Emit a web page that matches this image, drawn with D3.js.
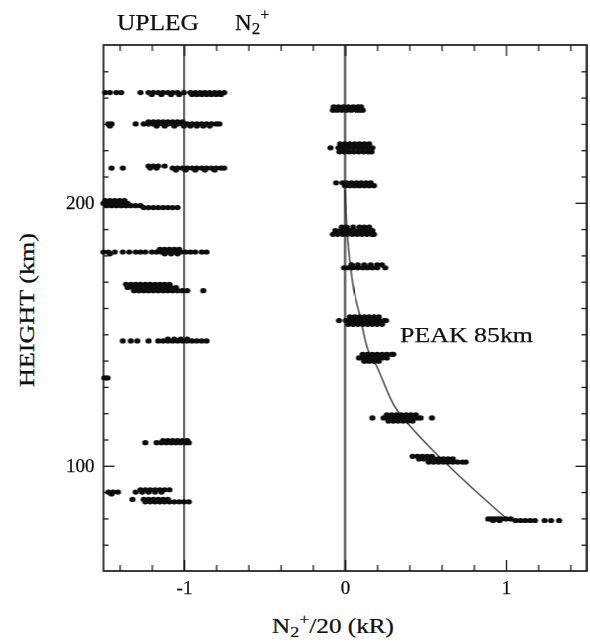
<!DOCTYPE html>
<html>
<head>
<meta charset="utf-8">
<script src="https://cdn.jsdelivr.net/npm/d3@7"></script>
<style>
  body { margin: 0; background: #fff; }
  svg text { font-family: "Liberation Serif", "DejaVu Serif", serif; fill: #111; stroke: #111; stroke-width: 0.25px; }
</style>
</head>
<body>
<div id="graf"></div>
<script>
// datos: [altura km, [valores x]] por fila de puntos
const derechaFilas = [
  [236.5, [-0.07, -0.04, -0.01, 0.02, 0.05, 0.08, 0.10]],
  [235.2, [-0.075, -0.05, -0.02, 0.01, 0.04, 0.07, 0.09, 0.11]],
  [222.4, [-0.03, 0, 0.03, 0.06, 0.09, 0.12, 0.15]],
  [220.9, [-0.09, -0.04, -0.01, 0.02, 0.05, 0.08, 0.11, 0.14, 0.17]],
  [219.4, [-0.035, -0.005, 0.025, 0.055, 0.085, 0.115, 0.145, 0.165]],
  [207.6, [-0.055, -0.015, 0.01, 0.04, 0.07, 0.10, 0.13, 0.16]],
  [206.5, [0, 0.03, 0.06, 0.09, 0.12, 0.15, 0.18]],
  [190.8, [-0.02, 0.01, 0.05, 0.09, 0.12, 0.15]],
  [189.4, [-0.06, -0.03, 0, 0.03, 0.06, 0.09, 0.12, 0.15, 0.17]],
  [188.0, [-0.075, -0.045, -0.015, 0.015, 0.045, 0.075, 0.105, 0.135, 0.165, 0.18]],
  [176.4, [0.04, 0.08, 0.12, 0.16, 0.2, 0.23]],
  [175.3, [-0.006, 0.02, 0.05, 0.08, 0.11, 0.14, 0.17, 0.2, 0.25]],
  [156.6, [0.03, 0.06, 0.09, 0.12, 0.15, 0.18, 0.21]],
  [155.2, [-0.037, 0.006, 0.035, 0.065, 0.095, 0.125, 0.155, 0.185, 0.215, 0.245, 0.255]],
  [153.8, [0.02, 0.05, 0.08, 0.11, 0.14, 0.17, 0.2, 0.23]],
  [142.4, [0.11, 0.14, 0.17, 0.2, 0.23, 0.26, 0.29, 0.30]],
  [141.0, [0.087, 0.11, 0.14, 0.17, 0.2, 0.23, 0.26]],
  [139.8, [0.12, 0.15, 0.18, 0.21]],
  [119.4, [0.26, 0.29, 0.32, 0.35, 0.38, 0.41, 0.44]],
  [118.2, [0.17, 0.24, 0.27, 0.3, 0.33, 0.36, 0.39, 0.42, 0.45, 0.47, 0.54]],
  [117.0, [0.27, 0.3, 0.33, 0.36, 0.39, 0.42]],
  [103.6, [0.42, 0.45, 0.48, 0.51, 0.54]],
  [102.6, [0.46, 0.49, 0.52, 0.55, 0.58, 0.61, 0.64, 0.67]],
  [101.4, [0.52, 0.55, 0.58, 0.61, 0.64, 0.67, 0.70, 0.73, 0.75]],
  [79.8, [0.89, 0.91, 0.93, 0.95, 0.97, 1.0, 1.03]],
  [79.2, [0.92, 0.96, 1.06, 1.09, 1.12, 1.15, 1.18, 1.24, 1.28, 1.33]]
];

// subida (UPLEG) desplazada a -1
const izquierdaFilas = [
  [241.9, [-1.49, -1.46, -1.42, -1.39, -1.27, -1.22, -1.19, -1.16, -1.13, -1.1, -1.07, -1.04, -1.0, -0.96, -0.93, -0.9, -0.87, -0.84, -0.81, -0.78, -0.75]],
  [241.2, [-1.2, -1.14, -1.08, -1.03, -0.95, -0.92, -0.89, -0.86, -0.83, -0.8, -0.77]],
  [230.8, [-1.22, -1.19, -1.16, -1.13, -1.1, -1.07, -1.04, -1.01]],
  [230.0, [-1.47, -1.45, -1.3, -1.25, -1.22, -1.19, -1.16, -1.13, -1.1, -1.07, -1.04, -1.01, -0.98, -0.95, -0.92, -0.89, -0.86, -0.83, -0.8, -0.78]],
  [229.2, [-1.46, -1.17, -1.12, -1.06, -1.0, -0.96, -0.92, -0.88, -0.84]],
  [214.0, [-1.22, -1.19, -1.16, -1.12]],
  [213.2, [-1.45, -1.38, -1.21, -1.17, -1.07, -1.04, -1.01, -0.98, -0.95, -0.92, -0.89, -0.86, -0.83, -0.8, -0.77, -0.75]],
  [212.5, [-1.05, -0.99, -0.93, -0.87, -0.81]],
  [200.8, [-1.49, -1.46, -1.43, -1.4, -1.37]],
  [199.8, [-1.5, -1.47, -1.44, -1.41, -1.38, -1.35]],
  [198.9, [-1.48, -1.45, -1.42, -1.39, -1.36, -1.33, -1.3, -1.27]],
  [198.2, [-1.25, -1.22, -1.19, -1.16, -1.13, -1.1, -1.07, -1.04]],
  [182.3, [-1.15, -1.12, -1.09, -1.06, -1.03]],
  [181.3, [-1.5, -1.47, -1.43, -1.38, -1.34, -1.3, -1.27, -1.24, -1.2, -1.17, -1.14, -1.11, -1.08, -1.05, -1.02, -0.99, -0.96, -0.93, -0.89, -0.86]],
  [180.6, [-1.46, -1.12, -1.08, -1.04]],
  [169.0, [-1.36, -1.33, -1.3, -1.27, -1.24, -1.21, -1.18, -1.15, -1.12, -1.09]],
  [167.8, [-1.35, -1.32, -1.29, -1.26, -1.23, -1.2, -1.17, -1.14, -1.11, -1.08, -1.05]],
  [166.6, [-1.31, -1.28, -1.25, -1.22, -1.19, -1.16, -1.13, -1.1, -1.07, -1.04, -1.01, -0.98, -0.88]],
  [148.2, [-1.1, -1.06, -1.02, -0.98]],
  [147.5, [-1.38, -1.33, -1.29, -1.22, -1.16, -1.13, -1.1, -1.07, -1.04, -1.01, -0.98, -0.95, -0.92, -0.89, -0.86]],
  [133.4, [-1.495, -1.475]],
  [109.6, [-1.13, -1.1, -1.07, -1.04, -1.01, -0.98]],
  [108.8, [-1.24, -1.17, -1.14, -1.11, -1.08, -1.05, -1.02, -0.99, -0.97]],
  [90.9, [-1.27, -1.24, -1.21, -1.18, -1.15, -1.12, -1.09]],
  [90.0, [-1.47, -1.44, -1.41, -1.3, -1.26, -1.22, -1.18, -1.14]],
  [89.3, [-1.45]],
  [87.2, [-1.32, -1.25, -1.22, -1.19, -1.16, -1.13, -1.1]],
  [86.3, [-1.24, -1.21, -1.18, -1.15, -1.12, -1.09, -1.06, -1.03, -1.0, -0.97]]
];

// curva ajustada [x, altura]
const curvaAjuste = [
  [0.0, 205], [0.012, 190], [0.03, 178], [0.06, 165], [0.093, 157], [0.143, 144],
  [0.199, 137.6], [0.31, 122.4], [0.435, 113], [0.652, 99.5], [0.963, 82.1], [1.0, 80.2]
];

const ticksX = [-1, 0, 1];
const ticksY = [100, 200];
const ticksXMenor = [-1.4, -1.2, -0.8, -0.6, -0.4, -0.2, 0.2, 0.4, 0.6, 0.8, 1.2, 1.4];
const ticksYMenor = [70, 80, 90, 110, 120, 130, 140, 150, 160, 170, 180, 190, 210, 220, 230, 240, 250];
const lineasVert = [-1, 0];

// Dimensiones
const anchoTotal = 590, altoTotal = 643;
const margins = { top: 45, right: 3.5, bottom: 72, left: 103.5 };
const ancho = anchoTotal - margins.left - margins.right;
const alto = altoTotal - margins.top - margins.bottom;

const svg = d3.select("#graf").append("svg")
  .attr("width", anchoTotal).attr("height", altoTotal);

svg.append("defs").append("filter").attr("id", "borroso")
  .append("feGaussianBlur").attr("stdDeviation", 0.35);

const g = svg.append("g")
  .attr("transform", `translate(${margins.left}, ${margins.top})`)
  .attr("filter", "url(#borroso)");

// Escaladores
const x = d3.scaleLinear().domain([-1.5, 1.5]).range([0, ancho]);
const y = d3.scaleLinear().domain([60, 260]).range([alto, 0]);

// lineas verticales en -1 y 0
g.selectAll(".vert").data(lineasVert).enter().append("line")
  .attr("x1", d => x(d)).attr("x2", d => x(d))
  .attr("y1", 0).attr("y2", alto)
  .attr("stroke", "#1a1a1a").attr("stroke-width", 1.6);

// Ejes (ticks hacia adentro)
function estilo(sel) {
  sel.select(".domain").remove();
  sel.selectAll("line").attr("stroke", "#1a1a1a").attr("stroke-width", 1.3);
  sel.selectAll("text").attr("fill", "#111")
    .style("font-family", '"Liberation Serif", serif').style("font-size", "19px");
}

g.append("g").attr("transform", `translate(0, ${alto})`)
  .call(d3.axisBottom(x).tickValues(ticksXMenor).tickSize(-6).tickFormat("")).call(estilo);
g.append("g").attr("transform", `translate(0, ${alto})`)
  .call(d3.axisBottom(x).tickValues(ticksX).tickSize(-11).tickPadding(10)
    .tickFormat(d => d < 0 ? "-" + Math.abs(d) : d)).call(estilo);
g.append("g")
  .call(d3.axisTop(x).tickValues(ticksXMenor).tickSize(-6).tickFormat("")).call(estilo);
g.append("g")
  .call(d3.axisTop(x).tickValues(ticksX).tickSize(-11).tickFormat("")).call(estilo);
g.append("g")
  .call(d3.axisLeft(y).tickValues(ticksYMenor).tickSize(-5).tickFormat("")).call(estilo);
g.append("g")
  .call(d3.axisLeft(y).tickValues(ticksY).tickSize(-11).tickPadding(9)).call(estilo);
g.append("g").attr("transform", `translate(${ancho}, 0)`)
  .call(d3.axisRight(y).tickValues(ticksYMenor).tickSize(-5).tickFormat("")).call(estilo);
g.append("g").attr("transform", `translate(${ancho}, 0)`)
  .call(d3.axisRight(y).tickValues(ticksY).tickSize(-11).tickFormat("")).call(estilo);

// marco
g.append("rect").attr("width", ancho).attr("height", alto)
  .attr("fill", "none").attr("stroke", "#1a1a1a").attr("stroke-width", 1.7);

// curva
const linea = d3.line().x(d => x(d[0])).y(d => y(d[1])).curve(d3.curveCatmullRom);
g.append("path").datum(curvaAjuste).attr("d", linea)
  .attr("fill", "none").attr("stroke", "#1a1a1a").attr("stroke-width", 1.2);

// puntos
const puntos = [];
derechaFilas.concat(izquierdaFilas).forEach(([h, xs]) => xs.forEach(v => puntos.push([v, h])));
g.selectAll(".pt").data(puntos).enter().append("ellipse")
  .attr("cx", d => x(d[0])).attr("cy", d => y(d[1]))
  .attr("rx", 3.1).attr("ry", 2.6)
  .attr("fill", "#0d0d0d");

// Textos
const tit = svg.append("g");
tit.append("text").attr("x", 117).attr("y", 30).style("font-size", "23px")
  .attr("textLength", 82).attr("lengthAdjust", "spacingAndGlyphs").text("UPLEG");
const n2 = tit.append("text").attr("x", 235).attr("y", 30).style("font-size", "23px");
n2.append("tspan").text("N");
n2.append("tspan").attr("dy", 4).style("font-size", "17px").text("2");
n2.append("tspan").attr("dy", -14).style("font-size", "16px").text("+");

svg.append("text").attr("x", 400).attr("y", 342).style("font-size", "22px")
  .attr("textLength", 133).attr("lengthAdjust", "spacingAndGlyphs").text("PEAK 85km");

const xt = svg.append("text").attr("transform", "translate(272, 633) scale(1.2, 1)")
  .style("font-size", "21px");
xt.append("tspan").text("N");
xt.append("tspan").attr("dy", 4).style("font-size", "15px").text("2");
xt.append("tspan").attr("dy", -13).style("font-size", "15px").text("+");
xt.append("tspan").attr("dy", 9).text("/20 (kR)");

svg.append("text")
  .attr("transform", "translate(34, 310) rotate(-90)")
  .attr("text-anchor", "middle").style("font-size", "21px")
  .attr("textLength", 154).attr("lengthAdjust", "spacingAndGlyphs")
  .text("HEIGHT (km)");
</script>
</body>
</html>
